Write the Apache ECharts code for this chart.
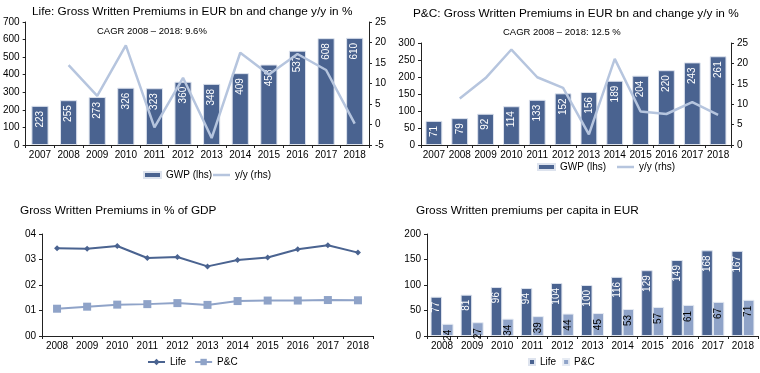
<!DOCTYPE html>
<html><head><meta charset="utf-8">
<script src="https://cdn.jsdelivr.net/npm/echarts@6/dist/echarts.min.js"></script>
<style>html,body{margin:0;padding:0;background:#fff}#c{width:760px;height:373px}</style>
</head><body><div id="c"></div>
<script>
var years = ['2007','2008','2009','2010','2011','2012','2013','2014','2015','2016','2017','2018'];
var lifeGwp = [223,255,273,326,323,360,348,409,458,537,608,610];
var lifeYoy = [null,14.5,7.0,19.3,-0.7,11.4,-3.3,17.5,12.2,17.2,13.3,0.2];
var pcGwp = [71,79,92,114,133,152,156,189,204,220,243,261];
var pcYoy = [null,11.4,16.4,23.4,16.6,14.0,2.6,21.1,8.2,7.6,10.5,7.4];
var gdpYears = ['2008','2009','2010','2011','2012','2013','2014','2015','2016','2017','2018'];
var lifeGdp = [0.344,0.342,0.353,0.306,0.310,0.273,0.298,0.308,0.340,0.356,0.327];
var pcGdp = [0.107,0.115,0.123,0.125,0.129,0.122,0.137,0.139,0.139,0.141,0.140];
var lifePerCapita = [77,81,96,94,104,100,116,129,149,168,167];
var pcPerCapita = [24,27,34,39,44,45,53,57,61,67,71];

var FONT = "'Liberation Sans', Arial, sans-serif";
var DARK = '#4a6390', LIGHT = '#8fa3c8', LINE = '#b6c5de', AX = '#222';
var chart = echarts.init(document.getElementById('c'), null, {renderer:'canvas'});

function catAxis(idx, data){
  return {type:'category', gridIndex:idx, data:data, boundaryGap:true,
    axisLine:{show:true, lineStyle:{color:AX, width:1}},
    axisTick:{show:true, length:3, lineStyle:{color:AX}},
    axisLabel:{color:'#000', fontSize:10, fontFamily:FONT, margin:5, interval:0}};
}
function valAxis(idx, min, max, interval, pos, fmt){
  return {type:'value', gridIndex:idx, min:min, max:max, interval:interval, position:pos||'left',
    axisLine:{show:true, lineStyle:{color:AX, width:1}},
    axisTick:{show:true, length:3, lineStyle:{color:AX}},
    splitLine:{show:false},
    axisLabel:{color:'#000', fontSize:10, fontFamily:FONT, margin:6, formatter:fmt}};
}
var barLabelWhite = {show:true, position:'insideTop', rotate:90, align:'right', verticalAlign:'middle',
  distance:5, color:'#fff', fontSize:10, fontFamily:FONT};
var barLabelBlack = {show:true, position:'insideTop', rotate:90, align:'right', verticalAlign:'middle',
  distance:6, color:'#000', fontSize:10, fontFamily:FONT};
var nm = function(n){ return n.split('|')[0]; };
var txt = {color:'#000', fontSize:10, fontFamily:FONT};
function ttl(text, left, top, size){
  return {text:text, left:left, top:top, padding:0,
    textStyle:{fontSize:size, fontWeight:'normal', color:'#000', fontFamily:FONT}};
}
function lg(data, left, top, w, h, gap, icon){
  var o = {data:data, left:left, top:top, padding:0, itemWidth:w, itemHeight:h, itemGap:gap,
    formatter:nm, textStyle:txt, selectedMode:false};
  if (icon) o.icon = icon;
  return o;
}

chart.setOption({
  animation:false,
  textStyle:{fontFamily:FONT},
  title:[
    ttl('Life: Gross Written Premiums in EUR bn and change y/y in %', 32, 6, 11.8),
    ttl('CAGR 2008 – 2018: 9.6%', 97, 26, 9.5),
    ttl('P&C: Gross Written Premiums in EUR bn and change y/y in %', 413, 8, 11.8),
    ttl('CAGR 2008 – 2018: 12.5 %', 503, 27, 9.5),
    ttl('Gross Written Premiums in % of GDP', 20, 205, 11.8),
    ttl('Gross Written premiums per capita in EUR', 416, 205, 11.8)
  ],
  legend:[
    lg(['GWP (lhs)|a'], 143, 170, 17, 6, 8, 'rect'),
    lg(['y/y (rhs)|a'], 213, 170, 17, 2.5, 8, 'rect'),
    lg(['GWP (lhs)|b'], 537, 162, 17, 6, 8, 'rect'),
    lg(['y/y (rhs)|b'], 617, 162, 17, 2.5, 8, 'rect'),
    lg(['Life|c','P&C|c'], 147, 357, 17, 8, 8),
    lg(['Life|d','P&C|d'], 528, 357, 6, 6, 6, 'rect')
  ],
  grid:[
    {left:25, right:391, top:22, bottom:228},
    {left:421, right:29, top:43, bottom:228},
    {left:42, right:387, top:234, bottom:37},
    {left:427, right:2, top:234, bottom:37}
  ],
  xAxis:[catAxis(0, years), catAxis(1, years), catAxis(2, gdpYears), catAxis(3, gdpYears)],
  yAxis:[
    valAxis(0, 0, 700, 100),
    valAxis(0, -5, 25, 5, 'right'),
    valAxis(1, 0, 300, 50),
    valAxis(1, 0, 25, 5, 'right'),
    valAxis(2, 0, 0.4, 0.1, 'left', function(v){ return v.toFixed(1).replace('.', ''); }),
    valAxis(3, 0, 200, 50)
  ],
  series:[
    {name:'GWP (lhs)|a', type:'bar', xAxisIndex:0, yAxisIndex:0, data:lifeGwp, barWidth:'60%',
      itemStyle:{color:DARK, borderColor:'#dde3ee', borderWidth:1}, label:barLabelWhite},
    {name:'y/y (rhs)|a', type:'line', xAxisIndex:0, yAxisIndex:1, data:lifeYoy, symbol:'none',
      lineStyle:{color:LINE, width:2.5}, itemStyle:{color:LINE}},
    {name:'GWP (lhs)|b', type:'bar', xAxisIndex:1, yAxisIndex:2, data:pcGwp, barWidth:'65%',
      itemStyle:{color:DARK, borderColor:'#dde3ee', borderWidth:1}, label:barLabelWhite},
    {name:'y/y (rhs)|b', type:'line', xAxisIndex:1, yAxisIndex:3, data:pcYoy, symbol:'none',
      lineStyle:{color:LINE, width:2.5}, itemStyle:{color:LINE}},
    {name:'Life|c', type:'line', xAxisIndex:2, yAxisIndex:4, data:lifeGdp, symbol:'diamond', symbolSize:6,
      lineStyle:{color:DARK, width:2}, itemStyle:{color:DARK}},
    {name:'P&C|c', type:'line', xAxisIndex:2, yAxisIndex:4, data:pcGdp, symbol:'rect', symbolSize:8,
      lineStyle:{color:LIGHT, width:2}, itemStyle:{color:LIGHT}},
    {name:'Life|d', type:'bar', xAxisIndex:3, yAxisIndex:5, data:lifePerCapita, barWidth:11.5, barGap:'0%',
      itemStyle:{color:DARK, borderColor:'#dde3ee', borderWidth:1}, label:barLabelWhite},
    {name:'P&C|d', type:'bar', xAxisIndex:3, yAxisIndex:5, data:pcPerCapita, barWidth:11.5, barGap:'0%',
      itemStyle:{color:LIGHT, borderColor:'#e6ebf3', borderWidth:1}, label:barLabelBlack}
  ]
});
</script></body></html>
